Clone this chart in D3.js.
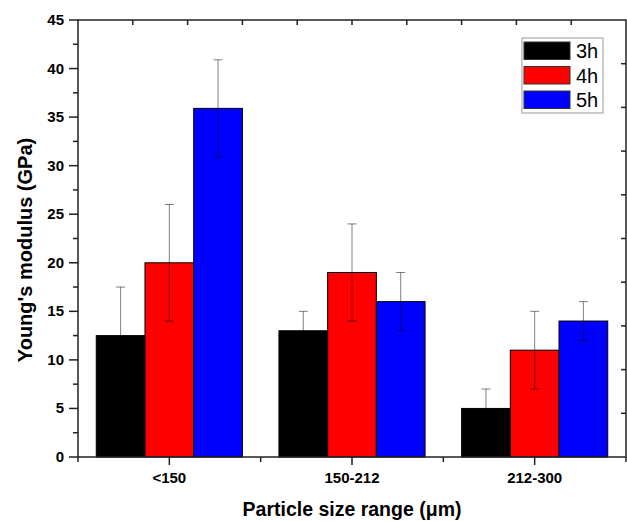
<!DOCTYPE html>
<html>
<head>
<meta charset="utf-8">
<script src="https://cdn.jsdelivr.net/npm/d3@7"></script>
<style>
  body { margin: 0; background: #fff; }
  svg { display: block; font-family: Arial, "Liberation Sans", sans-serif; }
</style>
</head>
<body>
<div id="vis"></div>
<script>
// data
var categories = ['<150', '150-212', '212-300'];
var series = ['3h', '4h', '5h'];
var colors = ['#000000', '#ff0000', '#0000ff'];
var values3h = [12.5, 13, 5];
var values4h = [20, 19, 11];
var values5h = [35.9, 16, 14];
var err3h = [5, 2, 2];
var err4h = [6, 5, 4];
var err5h = [5, 3, 2];
var yTicks = [0, 5, 10, 15, 20, 25, 30, 35, 40, 45];

function drawChart() {
  var width = 627, height = 521;
  var mLeft = 78, mRight = 626, mTop = 20, mBottom = 457;

  var svg = d3.select('#vis').append('svg')
    .attr('width', width)
    .attr('height', height);

  var x = d3.scaleLinear().domain([0.5, 3.5]).range([mLeft, mRight]);
  var y = d3.scaleLinear().domain([0, 45]).range([mBottom, mTop]);
  var groupW = x(1) - x(0.2);   // 0.8 of a category
  var sub = d3.scaleBand().domain(series).range([-groupW / 2, groupW / 2]);

  var vals = [values3h, values4h, values5h];
  var errs = [err3h, err4h, err5h];

  var rows = [];
  categories.forEach(function (c, i) {
    series.forEach(function (s, j) {
      rows.push({ cat: i + 1, s: s, j: j, v: vals[j][i], e: errs[j][i] });
    });
  });

  // bars
  svg.selectAll('.bar')
    .data(rows)
    .enter().append('rect')
    .attr('class', 'bar')
    .attr('x', function (d) { return x(d.cat) + sub(d.s); })
    .attr('y', function (d) { return y(d.v); })
    .attr('width', sub.bandwidth())
    .attr('height', function (d) { return y(0) - y(d.v); })
    .attr('fill', function (d) { return colors[d.j]; })
    .attr('stroke', '#000')
    .attr('stroke-width', 1);

  // error bars
  var eb = svg.selectAll('.err')
    .data(rows)
    .enter().append('g')
    .attr('class', 'err')
    .attr('stroke', '#000')
    .attr('stroke-opacity', 0.5)
    .attr('stroke-width', 1);

  function cx(d) { return x(d.cat) + sub(d.s) + sub.bandwidth() / 2; }

  eb.append('line')
    .attr('x1', cx).attr('x2', cx)
    .attr('y1', function (d) { return y(d.v + d.e); })
    .attr('y2', function (d) { return y(d.v - d.e); });
  eb.append('line')
    .attr('x1', function (d) { return cx(d) - 4.5; })
    .attr('x2', function (d) { return cx(d) + 4.5; })
    .attr('y1', function (d) { return y(d.v + d.e); })
    .attr('y2', function (d) { return y(d.v + d.e); });
  eb.append('line')
    .attr('x1', function (d) { return cx(d) - 4.5; })
    .attr('x2', function (d) { return cx(d) + 4.5; })
    .attr('y1', function (d) { return y(d.v - d.e); })
    .attr('y2', function (d) { return y(d.v - d.e); });

  // frame
  svg.append('rect')
    .attr('x', mLeft).attr('y', mTop)
    .attr('width', mRight - mLeft).attr('height', mBottom - mTop)
    .attr('fill', 'none')
    .attr('stroke', '#222')
    .attr('stroke-width', 1.5);

  var axisColor = '#222';

  // left axis: major every 5, minor at 2.5, outward
  var yMinor = d3.range(2.5, 45, 5);
  svg.selectAll('.ytick').data(yTicks).enter().append('line')
    .attr('x1', mLeft - 9).attr('x2', mLeft)
    .attr('y1', function (d) { return y(d); }).attr('y2', function (d) { return y(d); })
    .attr('stroke', axisColor).attr('stroke-width', 1.5);
  svg.selectAll('.yminor').data(yMinor).enter().append('line')
    .attr('x1', mLeft - 5).attr('x2', mLeft)
    .attr('y1', function (d) { return y(d); }).attr('y2', function (d) { return y(d); })
    .attr('stroke', axisColor).attr('stroke-width', 1.5);
  svg.selectAll('.ylab').data(yTicks).enter().append('text')
    .attr('x', 64)
    .attr('y', function (d) { return y(d) + 5; })
    .attr('text-anchor', 'end')
    .style('font-size', '15px')
    .style('font-weight', 'bold')
    .text(function (d) { return d; });

  // bottom axis: major at categories, minor between, outward
  var xMajor = [1, 2, 3];
  var xMinor = [0.5, 1.5, 2.5, 3.5];
  svg.selectAll('.xtick').data(xMajor).enter().append('line')
    .attr('x1', function (d) { return x(d); }).attr('x2', function (d) { return x(d); })
    .attr('y1', mBottom).attr('y2', mBottom + 8)
    .attr('stroke', axisColor).attr('stroke-width', 1.5);
  svg.selectAll('.xminor').data(xMinor).enter().append('line')
    .attr('x1', function (d) { return x(d); }).attr('x2', function (d) { return x(d); })
    .attr('y1', mBottom).attr('y2', mBottom + 5)
    .attr('stroke', axisColor).attr('stroke-width', 1.5);
  svg.selectAll('.xlab').data(categories).enter().append('text')
    .attr('x', function (d, i) { return x(i + 1); })
    .attr('y', 483)
    .attr('text-anchor', 'middle')
    .style('font-size', '15px')
    .style('font-weight', 'bold')
    .text(function (d) { return d; });

  // top and right mirror ticks, pointing inward
  var xTop = d3.scaleLinear().domain([0, 10]).range([mLeft, mRight]);
  var yRight = d3.scaleLinear().domain([0, 10]).range([mBottom, mTop]);
  svg.selectAll('.ttick').data(xTop.ticks(10).slice(1, -1)).enter().append('line')
    .attr('x1', function (d) { return xTop(d); }).attr('x2', function (d) { return xTop(d); })
    .attr('y1', mTop).attr('y2', mTop + 5)
    .attr('stroke', axisColor).attr('stroke-width', 1.5);
  svg.selectAll('.rtick').data(yRight.ticks(10).slice(1, -1)).enter().append('line')
    .attr('x1', mRight - 5).attr('x2', mRight)
    .attr('y1', function (d) { return yRight(d); }).attr('y2', function (d) { return yRight(d); })
    .attr('stroke', axisColor).attr('stroke-width', 1.5);

  // axis titles
  svg.append('text')
    .attr('x', x(2))
    .attr('y', 516)
    .attr('text-anchor', 'middle')
    .style('font-size', '19.5px')
    .style('font-weight', 'bold')
    .text('Particle size range (\u03bcm)');

  svg.append('text')
    .attr('transform', 'translate(32,' + 250 + ') rotate(-90)')
    .attr('text-anchor', 'middle')
    .style('font-size', '20px')
    .style('font-weight', 'bold')
    .text("Young's modulus (GPa)");

  // legend
  var legend = svg.append('g').attr('transform', 'translate(522,38)');
  legend.append('rect')
    .attr('width', 81).attr('height', 75)
    .attr('fill', '#fff')
    .attr('stroke', '#999').attr('stroke-width', 1);
  var li = legend.selectAll('.li').data(series).enter().append('g')
    .attr('transform', function (d, i) { return 'translate(2,' + (4 + i * 24.5) + ')'; });
  li.append('rect')
    .attr('width', 46).attr('height', 17.5)
    .attr('fill', function (d, i) { return colors[i]; })
    .attr('stroke', '#333').attr('stroke-width', 1);
  li.append('text')
    .attr('x', 52).attr('y', 16)
    .style('font-size', '20px')
    .text(function (d) { return d; });
}

drawChart();
</script>
</body>
</html>
